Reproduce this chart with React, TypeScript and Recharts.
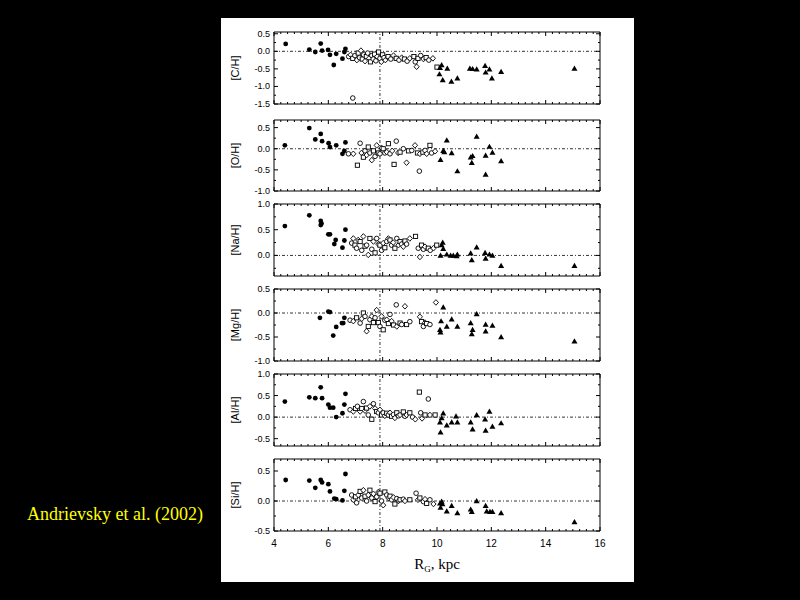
import React from 'react';
import { ScatterChart, Scatter, XAxis, YAxis, ReferenceLine } from 'recharts';

type P = [number, number];

// ---------- data ----------
const xMajorTicks = [4, 6, 8, 10, 12, 14, 16];
const solarRadius = 7.9;

const cFilled: P[] = [[4.43,0.21],[5.30,0.05],[5.52,-0.02],[5.72,0.22],[5.77,0.02],[5.99,0.04],[6.06,-0.10],[6.20,-0.39],[6.29,-0.07],[6.52,-0.21],[6.59,-0.02],[6.63,0.07]];
const cOpen: P[] = [[6.75,-0.15],[6.82,-0.10],[6.9,-0.2],[6.98,-0.12],[7.05,-0.25],[7.1,-0.05],[7.15,-0.18],[7.2,0.02],[7.25,-0.22],[7.3,-0.1],[7.35,-0.28],[7.4,-0.15],[7.45,-0.05],[7.5,-0.2],[7.55,-0.3],[7.6,-0.12],[7.65,-0.22],[7.7,-0.08],[7.75,-0.27],[7.8,-0.15],[7.85,-0.02],[7.9,-0.2],[7.95,-0.3],[8.0,-0.1],[8.05,-0.18],[8.1,-0.25],[8.2,-0.15],[8.3,-0.22],[8.4,-0.12],[8.5,-0.2],[8.6,-0.25],[8.7,-0.18],[8.8,-0.22],[8.9,-0.28],[9.0,-0.2],[9.15,-0.15],[9.2,-0.3],[9.25,-0.44],[9.3,-0.2],[9.4,-0.12],[9.5,-0.22],[9.6,-0.18],[9.7,-0.25],[9.85,-0.2],[10.0,-0.45],[6.9,-1.33]];
const cTri: P[] = [[10.09,-0.65],[10.11,-0.47],[10.17,-0.39],[10.21,-0.82],[10.38,-0.49],[10.53,-0.86],[10.75,-0.77],[11.21,-0.49],[11.31,-0.5],[11.46,-0.51],[11.77,-0.41],[11.79,-0.6],[11.93,-0.51],[12.02,-0.77],[12.36,-0.58],[15.06,-0.49]];

const oFilled: P[] = [[4.40,0.08],[5.30,0.49],[5.52,0.22],[5.72,0.35],[5.77,0.18],[6.01,0.13],[6.06,0.04],[6.29,0.08],[6.52,-0.12],[6.59,-0.05],[6.63,0.15]];
const oOpen: P[] = [[6.74,-0.12],[6.92,-0.12],[7.07,-0.39],[7.17,0.13],[7.22,-0.1],[7.29,-0.2],[7.35,-0.05],[7.41,-0.15],[7.47,0.04],[7.53,-0.1],[7.6,-0.27],[7.66,-0.05],[7.72,-0.18],[7.78,0.08],[7.84,-0.1],[7.9,-0.12],[7.96,0.02],[8.02,0.0],[8.08,-0.1],[8.15,-0.08],[8.21,0.12],[8.27,-0.12],[8.35,-0.05],[8.42,-0.37],[8.5,0.18],[8.57,-0.1],[8.64,-0.08],[8.76,0.0],[8.88,-0.33],[8.95,-0.05],[9.07,-0.04],[9.19,0.08],[9.28,-0.1],[9.35,-0.53],[9.37,-0.12],[9.48,-0.08],[9.56,-0.04],[9.62,-0.12],[9.74,0.08],[9.8,-0.1],[9.93,-0.06]];
const oTri: P[] = [[10.13,-0.26],[10.23,-0.05],[10.27,-0.08],[10.36,0.2],[10.54,-0.1],[10.75,-0.53],[11.24,-0.2],[11.28,-0.33],[11.31,-0.17],[11.46,0.29],[11.79,-0.16],[11.79,-0.61],[11.93,0.05],[12.04,-0.09],[12.36,-0.29]];

const naFilled: P[] = [[4.40,0.57],[5.30,0.78],[5.72,0.67],[5.75,0.62],[5.72,0.59],[6.0,0.41],[6.06,0.41],[6.22,0.22],[6.27,0.3],[6.52,0.15],[6.59,0.29],[6.63,0.5]];
const naOpen: P[] = [[6.86,0.24],[6.92,0.33],[6.98,0.2],[7.04,0.14],[7.1,0.3],[7.17,0.27],[7.23,0.1],[7.29,0.37],[7.35,0.18],[7.41,0.2],[7.47,0.01],[7.53,0.33],[7.6,0.12],[7.66,0.27],[7.72,0.05],[7.78,0.33],[7.84,0.22],[7.9,0.2],[7.96,0.1],[8.02,0.24],[8.08,0.15],[8.15,0.27],[8.21,0.33],[8.27,0.3],[8.33,0.2],[8.39,0.25],[8.45,0.14],[8.52,0.33],[8.58,0.2],[8.64,0.27],[8.7,0.22],[8.76,0.17],[8.82,0.28],[8.88,0.22],[9.0,0.33],[9.21,0.37],[9.31,0.14],[9.37,-0.03],[9.43,0.2],[9.5,0.12],[9.56,0.17],[9.68,0.14],[9.75,0.1],[9.87,0.14],[9.99,0.2]];
const naTri: P[] = [[10.13,0.0],[10.17,0.2],[10.21,0.25],[10.23,0.13],[10.36,0.02],[10.5,0.0],[10.6,0.0],[10.72,-0.01],[10.75,0.02],[11.24,0.04],[11.28,-0.09],[11.46,0.16],[11.77,0.05],[11.79,-0.06],[11.93,0.02],[12.04,0.0],[12.36,-0.2],[15.06,-0.2]];

const mgFilled: P[] = [[5.69,-0.1],[6.0,0.03],[6.06,0.02],[6.18,-0.47],[6.29,-0.29],[6.5,-0.21],[6.55,-0.21],[6.59,-0.1]];
const mgOpen: P[] = [[6.8,-0.15],[6.92,-0.17],[7.04,-0.1],[7.17,-0.21],[7.23,-0.12],[7.29,0.0],[7.35,-0.07],[7.41,-0.38],[7.47,-0.28],[7.53,-0.14],[7.6,-0.07],[7.66,-0.2],[7.72,-0.1],[7.78,0.06],[7.84,-0.2],[7.9,-0.28],[7.96,-0.07],[8.02,-0.35],[8.08,-0.15],[8.15,-0.14],[8.21,-0.22],[8.27,-0.03],[8.33,-0.17],[8.4,-0.25],[8.5,0.17],[8.52,-0.28],[8.64,-0.21],[8.7,-0.24],[8.82,0.14],[8.88,-0.24],[9.0,-0.18],[9.37,-0.08],[9.43,-0.18],[9.5,-0.28],[9.56,-0.2],[9.62,-0.22],[9.74,-0.24],[9.96,0.22]];
const mgTri: P[] = [[10.11,-0.35],[10.13,-0.4],[10.15,-0.17],[10.23,0.12],[10.36,-0.28],[10.54,-0.13],[10.75,-0.28],[11.24,-0.21],[11.28,-0.44],[11.31,-0.35],[11.46,-0.02],[11.79,-0.24],[11.79,-0.38],[12.04,-0.26],[12.36,-0.5],[15.06,-0.59]];

const alFilled: P[] = [[4.40,0.36],[5.30,0.46],[5.52,0.44],[5.72,0.69],[5.77,0.44],[6.0,0.29],[6.06,0.22],[6.18,0.22],[6.29,0.0],[6.52,0.09],[6.59,0.29],[6.63,0.54]];
const alOpen: P[] = [[6.8,0.17],[6.92,0.13],[7.0,0.2],[7.07,0.25],[7.17,0.13],[7.23,0.2],[7.29,0.36],[7.35,0.15],[7.41,0.21],[7.47,0.05],[7.53,0.25],[7.6,-0.05],[7.66,0.31],[7.72,0.2],[7.78,0.13],[7.84,0.1],[7.9,0.17],[7.96,0.05],[8.02,0.1],[8.08,0.03],[8.15,0.09],[8.21,0.05],[8.27,0.1],[8.33,0.02],[8.4,0.06],[8.45,-0.02],[8.52,0.1],[8.58,0.03],[8.64,0.05],[8.76,0.12],[8.82,0.02],[8.88,0.05],[9.0,0.1],[9.1,0.0],[9.2,-0.05],[9.35,0.58],[9.4,0.1],[9.45,-0.03],[9.56,0.05],[9.68,0.42],[9.74,0.05],[9.93,0.05]];
const alTri: P[] = [[10.11,-0.12],[10.13,-0.35],[10.17,-0.02],[10.23,0.09],[10.36,-0.19],[10.54,-0.12],[10.7,0.02],[10.75,-0.12],[11.24,-0.12],[11.31,-0.28],[11.46,0.05],[11.77,-0.05],[11.79,-0.31],[11.93,0.13],[12.04,-0.22],[12.36,-0.14]];

const siFilled: P[] = [[4.43,0.35],[5.30,0.34],[5.52,0.22],[5.72,0.35],[5.77,0.31],[6.0,0.28],[6.06,0.16],[6.22,0.04],[6.29,0.03],[6.52,0.01],[6.59,0.17],[6.63,0.45]];
const siOpen: P[] = [[6.86,0.1],[6.92,0.02],[7.0,0.07],[7.04,-0.03],[7.1,0.1],[7.17,0.16],[7.23,0.05],[7.29,0.18],[7.35,0.08],[7.41,0.0],[7.47,0.1],[7.53,0.18],[7.6,0.05],[7.66,0.12],[7.72,-0.01],[7.78,0.07],[7.84,0.15],[7.9,0.13],[7.96,0.0],[8.02,-0.07],[8.08,0.15],[8.15,0.1],[8.21,0.05],[8.27,0.08],[8.33,0.02],[8.4,0.06],[8.45,-0.05],[8.52,0.04],[8.58,0.0],[8.64,0.02],[8.76,0.03],[8.82,0.0],[9.0,0.02],[9.23,0.13],[9.3,0.02],[9.37,0.05],[9.5,-0.01],[9.56,0.03],[9.62,-0.04],[9.74,0.02],[9.87,-0.05]];
const siTri: P[] = [[10.11,-0.04],[10.13,-0.11],[10.17,-0.01],[10.2,-0.05],[10.36,-0.17],[10.54,-0.08],[10.75,-0.2],[11.24,-0.14],[11.28,-0.18],[11.46,0.0],[11.79,-0.08],[11.83,-0.17],[11.95,-0.18],[12.04,-0.18],[12.36,-0.2],[15.06,-0.35]];

const panelLabels = ['[C/H]', '[O/H]', '[Na/H]', '[Mg/H]', '[Al/H]', '[Si/H]'];
const yDomains: P[] = [[-1.5, 0.55], [-1.0, 0.68], [-0.4, 1.0], [-1.0, 0.5], [-0.67, 1.0], [-0.5, 0.7]];
const yTickLabels: number[][] = [[0.5, 0, -0.5, -1, -1.5], [0.5, 0, -0.5, -1], [1, 0.5, 0], [0.5, 0, -0.5, -1], [1, 0.5, 0, -0.5], [0.5, 0, -0.5]];
const filledSets = [cFilled, oFilled, naFilled, mgFilled, alFilled, siFilled];
const openSets = [cOpen, oOpen, naOpen, mgOpen, alOpen, siOpen];
const triSets = [cTri, oTri, naTri, mgTri, alTri, siTri];

// ---------- layout ----------
const plotTops = [32, 120, 204, 289, 374, 459];
const plotBottoms = [104, 191, 276, 361, 446, 531];
const CHART_LEFT = 221;
const CHART_W = 413;
const LEFT_W = 53;
const RIGHT_W = 34;
const PAD = 8;
const LAST_BOTTOM = 51;

const steps = (min: number, max: number, step: number) => {
  const out: number[] = [];
  for (let i = Math.ceil(min / step - 1e-9); i <= Math.floor(max / step + 1e-9); i++) out.push(Math.round(i * step * 1000) / 1000);
  return out;
};
const xMinor = steps(4, 16, 0.25);
const has = (arr: number[], v: number) => arr.some((m) => Math.abs(m - v) < 1e-6);

const toObjs = (a: P[]) => a.map(([x, y], i) => ({ x, y, k: i % 3 }));

const FONT = '"Liberation Sans", Arial, sans-serif';

const FilledCircle = (p: any) => <circle cx={p.cx} cy={p.cy} r={2.4} fill="#000" />;
const Triangle = (p: any) => (
  <path d={`M${p.cx},${p.cy - 3} L${p.cx + 3},${p.cy + 2.2} L${p.cx - 3},${p.cy + 2.2} Z`} fill="#000" />
);
const OpenSym = (p: any) => {
  const k = p.payload ? p.payload.k : 0;
  if (k === 1)
    return <path d={`M${p.cx},${p.cy - 2.8} L${p.cx + 2.6},${p.cy} L${p.cx},${p.cy + 2.8} L${p.cx - 2.6},${p.cy} Z`} fill="#fff" stroke="#000" strokeWidth={0.9} />;
  if (k === 2) return <rect x={p.cx - 2.1} y={p.cy - 2.1} width={4.2} height={4.2} fill="#fff" stroke="#000" strokeWidth={0.9} />;
  return <circle cx={p.cx} cy={p.cy} r={2.3} fill="#fff" stroke="#000" strokeWidth={0.9} />;
};

function Panel({ idx }: { idx: number }) {
  const last = idx === 5;
  const top = plotTops[idx] - PAD;
  const bottomH = last ? LAST_BOTTOM : PAD;
  const h = plotBottoms[idx] - plotTops[idx] + PAD + bottomH;
  const dom = yDomains[idx];
  const yMinor = steps(dom[0], dom[1], 0.25);
  const majors = yTickLabels[idx];

  const leftTick = (p: any) => {
    const v = p.payload.value;
    const mj = has(majors, v);
    return (
      <g>
        <line x1={p.x} x2={p.x + (mj ? 4 : 2)} y1={p.y} y2={p.y} stroke="#000" strokeWidth={1} />
        {mj && (
          <text x={p.x - 4} y={p.y} textAnchor="end" dominantBaseline="central" fontSize={9} fontFamily={FONT} fill="#000">
            {v.toFixed(1)}
          </text>
        )}
      </g>
    );
  };
  const rightTick = (p: any) => {
    const mj = has(majors, p.payload.value);
    return <line x1={p.x} x2={p.x - (mj ? 4 : 2)} y1={p.y} y2={p.y} stroke="#000" strokeWidth={1} />;
  };
  const topTick = (p: any) => {
    const mj = has(xMajorTicks, p.payload.value);
    return <line x1={p.x} x2={p.x} y1={p.y} y2={p.y + (mj ? 4 : 2)} stroke="#000" strokeWidth={1} />;
  };
  const bottomTick = (p: any) => {
    const v = p.payload.value;
    const mj = has(xMajorTicks, v);
    return (
      <g>
        <line x1={p.x} x2={p.x} y1={p.y} y2={p.y - (mj ? 4 : 2)} stroke="#000" strokeWidth={1} />
        {last && mj && (
          <text x={p.x} y={p.y + 12} textAnchor="middle" dominantBaseline="central" fontSize={10} fontFamily={FONT} fill="#000">
            {String(v)}
          </text>
        )}
      </g>
    );
  };

  const yLabel = (props: any) => {
    const vb = props.viewBox || { x: 0, y: 0, width: 0, height: 0 };
    const cx = vb.x + 14;
    const cy = vb.y + vb.height / 2;
    return (
      <text transform={`translate(${cx},${cy}) rotate(-90)`} textAnchor="middle" dominantBaseline="central" fontSize={11} fontFamily={FONT} fill="#000">
        {panelLabels[idx]}
      </text>
    );
  };
  const xLabel = (props: any) => {
    const vb = props.viewBox || { x: 0, y: 0, width: 0, height: 0 };
    return (
      <text x={vb.x + vb.width / 2} y={vb.y + 38} textAnchor="middle" fontSize={15} fontFamily='"Liberation Serif", "Times New Roman", serif' fill="#000">
        <tspan>R</tspan>
        <tspan fontSize={9} dy={3}>G</tspan>
        <tspan dy={-3}>, kpc</tspan>
      </text>
    );
  };

  return (
    <div style={{ position: 'absolute', left: CHART_LEFT, top }}>
      <ScatterChart width={CHART_W} height={h} margin={{ top: 0, right: 0, bottom: 0, left: 0 }}>
        <XAxis
          xAxisId="b"
          orientation="bottom"
          type="number"
          dataKey="x"
          domain={[4, 16]}
          allowDataOverflow
          ticks={xMinor}
          interval={0}
          height={bottomH}
          tickSize={0}
          tickMargin={0}
          tickLine={false}
          tick={bottomTick}
          axisLine={{ stroke: '#000', strokeWidth: 1 }}
          label={last ? xLabel : undefined}
        />
        <XAxis
          xAxisId="t"
          orientation="top"
          type="number"
          dataKey="x"
          domain={[4, 16]}
          allowDataOverflow
          ticks={xMinor}
          interval={0}
          height={PAD}
          tickSize={0}
          tickMargin={0}
          tickLine={false}
          tick={topTick}
          axisLine={{ stroke: '#000', strokeWidth: 1 }}
        />
        <YAxis
          yAxisId="l"
          orientation="left"
          type="number"
          dataKey="y"
          domain={dom}
          allowDataOverflow
          ticks={yMinor}
          interval={0}
          width={LEFT_W}
          tickSize={0}
          tickMargin={0}
          tickLine={false}
          tick={leftTick}
          axisLine={{ stroke: '#000', strokeWidth: 1 }}
          label={yLabel}
        />
        <YAxis
          yAxisId="r"
          orientation="right"
          type="number"
          dataKey="y"
          domain={dom}
          allowDataOverflow
          ticks={yMinor}
          interval={0}
          width={RIGHT_W}
          tickSize={0}
          tickMargin={0}
          tickLine={false}
          tick={rightTick}
          axisLine={{ stroke: '#000', strokeWidth: 1 }}
        />
        <ReferenceLine xAxisId="b" yAxisId="l" y={0} stroke="#000" strokeWidth={0.8} strokeDasharray="3 2 1 2" />
        <ReferenceLine xAxisId="b" yAxisId="l" x={solarRadius} stroke="#000" strokeWidth={0.8} strokeDasharray="3 2 1 2" />
        <Scatter xAxisId="b" yAxisId="l" data={toObjs(openSets[idx])} shape={OpenSym} isAnimationActive={false} />
        <Scatter xAxisId="b" yAxisId="l" data={toObjs(filledSets[idx])} shape={FilledCircle} isAnimationActive={false} />
        <Scatter xAxisId="b" yAxisId="l" data={toObjs(triSets[idx])} shape={Triangle} isAnimationActive={false} />
      </ScatterChart>
    </div>
  );
}

export default function App() {
  return (
    <div style={{ position: 'fixed', left: 0, top: 0, width: 800, height: 600, background: '#000', overflow: 'hidden' }}>
      <div style={{ position: 'absolute', left: 221, top: 18, width: 413, height: 564, background: '#fff' }} />
      {[0, 1, 2, 3, 4, 5].map((i) => (
        <Panel key={i} idx={i} />
      ))}
      <div
        style={{
          position: 'absolute',
          left: 27,
          top: 504,
          color: '#ffff00',
          fontFamily: '"Liberation Serif", "Times New Roman", serif',
          fontSize: 18,
          whiteSpace: 'nowrap',
          lineHeight: '20px',
        }}
      >
        Andrievsky et al. (2002)
      </div>
    </div>
  );
}
